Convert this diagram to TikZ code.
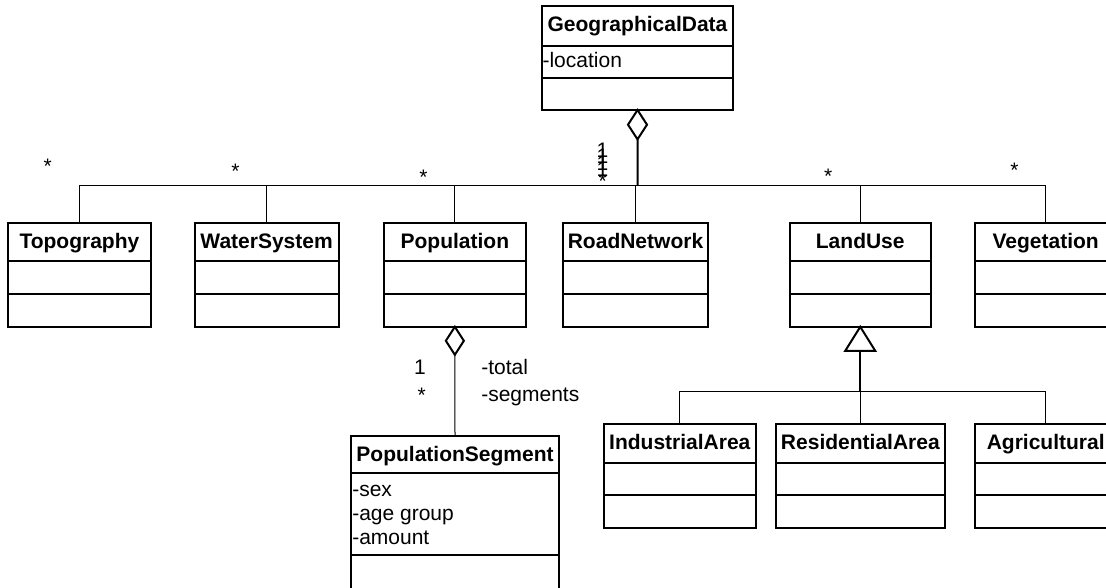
\documentclass[tikz,border=0pt]{standalone}
\usepackage{fontspec}
\setmainfont{Liberation Sans}
\usetikzlibrary{shapes.geometric}
\tikzset{
  clsbox/.style={draw, line width=1.5pt, inner sep=0pt, outer sep=0pt},
  clsline/.style={line width=1.5pt},
  clsname/.style={font=\fontsize{15.75pt}{18pt}\selectfont\bfseries, anchor=base, inner sep=0pt},
  attrtext/.style={font=\fontsize{15.75pt}{18pt}\selectfont, anchor=base west, inner sep=0pt},
  multlabel/.style={font=\fontsize{15.75pt}{18pt}\selectfont, anchor=base, inner sep=0pt},
  assoc/.style={line width=0.75pt},
  assocthick/.style={line width=1.5pt},
  aggdiam/.style={diamond, draw, fill=white, line width=1.5pt, inner sep=0pt, outer sep=0pt, anchor=north},
  gentri/.style={draw, fill=white, line width=1.5pt}
}
\newcommand\umlbox[7]{%
  \node[clsbox, anchor=north west, minimum width={#4*0.75pt}, minimum height={(#5+#6+#7)*0.75pt}] (#1) at (#2,#3) {};
  \draw[clsline] ([yshift={-#5*0.75pt}]#1.north west) -- ([yshift={-#5*0.75pt}]#1.north east);
  \draw[clsline] ([yshift={-(#5+#6)*0.75pt}]#1.north west) -- ([yshift={-(#5+#6)*0.75pt}]#1.north east);
}
\begin{document}
\begin{tikzpicture}[x=0.75pt, y=-0.75pt]
\useasboundingbox (0,0) rectangle (1106,587);
\clip (0,0) rectangle (1106,587);

% class boxes
\umlbox{geo}{541.7}{5.7}{191.6}{40}{32.6}{31.7}
\umlbox{topo}{8.3}{222.5}{142.2}{38.7}{32.8}{32.8}
\umlbox{water}{194.6}{222.5}{144}{38.7}{32.8}{32.8}
\umlbox{pop}{384}{222.5}{141.7}{38.7}{32.8}{32.8}
\umlbox{road}{563}{222.5}{145}{38.7}{32.8}{32.8}
\umlbox{land}{789.5}{222.5}{141.5}{38.7}{32.8}{32.8}
\umlbox{veg}{975}{222.5}{141.4}{38.7}{32.8}{32.8}
\umlbox{popseg}{351}{435.7}{208}{37}{82.3}{40}
\umlbox{ind}{603.8}{424}{152}{38.5}{32.3}{33}
\umlbox{res}{775.7}{424}{169.3}{38.5}{32.3}{33}
\umlbox{agr}{975}{424}{141.4}{38.5}{32.3}{33}

% class names
\node[clsname] (geo-n) at (637.5,31.5) {GeographicalData};
\node[clsname] (topo-n) at (79.4,248) {Topography};
\node[clsname] (water-n) at (266.6,248) {WaterSystem};
\node[clsname] (pop-n) at (454.85,248) {Population};
\node[clsname] (road-n) at (635.5,248) {RoadNetwork};
\node[clsname] (land-n) at (860.25,248) {LandUse};
\node[clsname] (veg-n) at (1045.7,248) {Vegetation};
\node[clsname] (popseg-n) at (455,461.5) {PopulationSegment};
\node[clsname] (ind-n) at (679.8,449.5) {IndustrialArea};
\node[clsname] (res-n) at (860.35,449.5) {ResidentialArea};
\node[clsname] (agr-n) at (1045.7,449.5) {Agricultural};

% attributes
\node[attrtext] (geo-a) at (542.3,67.7) {-location};
\node[attrtext] (popseg-a1) at (352,496) {-sex};
\node[attrtext] (popseg-a2) at (352,520) {-age group};
\node[attrtext] (popseg-a3) at (352,544) {-amount};

% aggregation GeographicalData
\node[aggdiam, minimum width=14.25pt, minimum height=22pt] (gd) at (geo.south) {};
\coordinate (junc) at (637.5,185.7);
\draw[assocthick] (gd.south) -- (junc);
\draw[assoc] (topo.north) |- (junc);
\draw[assoc] (water.north) |- (junc);
\draw[assoc] (pop.north) |- (junc);
\draw[assoc] (road.north) |- (junc);
\draw[assoc] (land.north) |- (junc);
\draw[assoc] (veg.north) |- (junc);

% multiplicities at the parts
\node[multlabel] (m1) at (47.7,173.7) {*};
\node[multlabel] (m2) at (235.5,178.7) {*};
\node[multlabel] (m3) at (423.5,184.3) {*};
\node[multlabel] (m4) at (602.7,188.7) {*};
\node[multlabel] (m5) at (828.3,183) {*};
\node[multlabel] (m6) at (1014.5,177) {*};
% stacked multiplicities at the whole
\node[multlabel] (o1) at (602.5,157) {1};
\node[multlabel] (o2) at (602.5,163.5) {1};
\node[multlabel] (o3) at (602.5,170) {1};
\node[multlabel] (o4) at (602.5,176.5) {1};

% aggregation Population - PopulationSegment
\node[aggdiam, minimum width=13.5pt, minimum height=21pt] (pd) at (pop.south) {};
\draw[assoc] (pd.south) -- (popseg.north);
\node[multlabel] (pm1) at (420,374.5) {1};
\node[multlabel] (pm2) at (421.7,402) {*};
\node[attrtext] (pr1) at (481,374.5) {-total};
\node[attrtext] (pr2) at (481,401) {-segments};

% generalization LandUse
\path (land.south) ++(0,24) coordinate (tb);
\draw[gentri] (land.south) -- ([xshift=-11.25pt]tb) -- ([xshift=11.25pt]tb) -- cycle;
\coordinate (gj) at (860.25,391.7);
\draw[assocthick] (tb) -- (gj);
\draw[assoc] (ind.north) |- (gj);
\draw[assoc] (res.north) |- (gj);
\draw[assoc] (agr.north) |- (gj);
\end{tikzpicture}
\end{document}
